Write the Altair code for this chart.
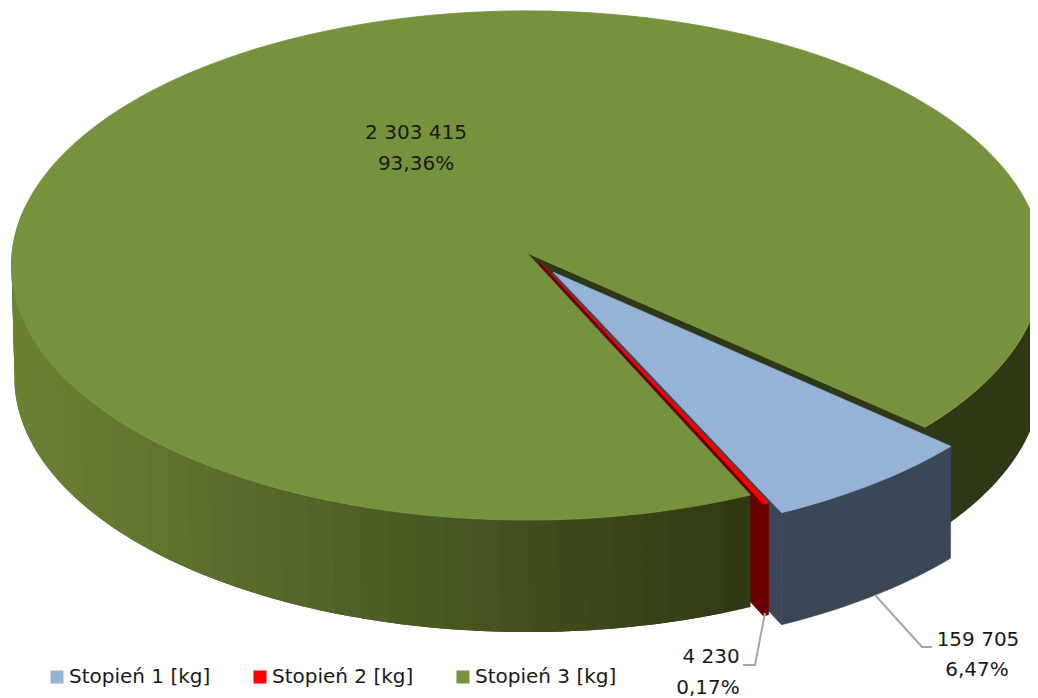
import math
import altair as alt
import pandas as pd

categories = ["Stopień 1 [kg]", "Stopień 2 [kg]", "Stopień 3 [kg]"]
values = [159705, 4230, 2303415]
value_labels = ["159 705", "4 230", "2 303 415"]
pct_labels = ["6,47%", "0,17%", "93,36%"]
top_colors = ["#95b3d7", "#ff0000", "#76923c"]
wall_colors = ["#3b4658", "#6b0000", "#2e3816"]

# drawing geometry of the tilted disc (canvas units)
CX, CY, A, B, K = 527.0, 253.0, 515.0, 254.0, 0.049
DX, DEPTH, AB = 1.0, 112.0, 513.0
START = 41.6
OFFSETS = [(26, 19), (13, 9), (0, 0)]
GRAD_L, GRAD_R = (107, 130, 52), (46, 57, 20)

total = sum(values)
spans, a0 = [], START
for v in values:
    a1 = a0 + 360.0 * v / total
    spans.append((a0, a1))
    a0 = a1


def top(t, off):
    r = math.radians(t)
    w = 1 - K * math.sin(r)
    return CX + off[0] + A * math.cos(r) / w, CY + off[1] + B * math.sin(r) / w


def bot(t, off):
    r = math.radians(t)
    w = 1 - K * math.sin(r)
    return CX + DX + off[0] + AB * math.cos(r) / w, CY + DEPTH + off[1] + B * math.sin(r) / w


def apex(off, lower=False):
    return (CX + off[0] + (DX if lower else 0), CY + off[1] + (DEPTH if lower else 0))


def steps(t0, t1, d=1.5):
    n = max(1, int(abs(t1 - t0) / d))
    return [t0 + (t1 - t0) * i / n for i in range(n + 1)]


def frame(polys):
    rows = []
    for name, color, pts in polys:
        for i, (x, y) in enumerate(pts + [pts[0]]):
            rows.append({"poly": name, "i": i, "x": x, "y": y, "color": color})
    return pd.DataFrame(rows)


def top_slice(name, color, t0, t1, off):
    return (name, color, [apex(off)] + [top(t, off) for t in steps(t0, t1)])


def radial_face(name, color, t, off):
    return (name, color, [apex(off), top(t, off), bot(t, off), apex(off, True)])


def wall(name, color, t0, t1, off):
    a = steps(t0, t1)
    return (name, color, [top(t, off) for t in a] + [bot(t, off) for t in reversed(a)])


def shade(t):
    # darkens from the left silhouette towards the cut edge of the green slice
    x0, x1 = top(180, (0, 0))[0], top(spans[2][0], (0, 0))[0]
    f = min(1, max(0, (top(t, (0, 0))[0] - x0) / (x1 - x0)))
    c = [round(GRAD_L[i] + (GRAD_R[i] - GRAD_L[i]) * f) for i in range(3)]
    return "#%02x%02x%02x" % tuple(c)


(b0, b1), (r0, r1), (g0, g1) = spans
off_b, off_r, off_g = OFFSETS

green_walls = [wall("gr", wall_colors[2], START - 50, START, off_g)]
front = steps(r1, 190, 3)
for j in range(len(front) - 1):
    mid = (front[j] + front[j + 1]) / 2
    # each band runs under its neighbour so that no seam shows between them
    green_walls.append(
        wall(f"gf{j}", shade(mid), front[j], min(front[j + 1] + 3, 190), off_g)
    )

stages = [
    (0.8, [radial_face("g_face", wall_colors[2], START, off_g)]),
    (0.8, [radial_face("b_face", wall_colors[0], b1, off_b)]),
    (0.8, [radial_face("r_face", wall_colors[1], r1, off_r)]),
    (0, green_walls),
    (0.8, [top_slice("g_top", top_colors[2], g0, g1, off_g)]),
    (0.5, [wall("r_wall", wall_colors[1], r0, r1, off_r), top_slice("r_top", top_colors[1], r0, r1, off_r)]),
    (0.5, [wall("b_wall", wall_colors[0], b0, b1, off_b), top_slice("b_top", top_colors[0], b0, b1, off_b)]),
]

xs = alt.Scale(domain=[8, 1030], range=[0, 1022], nice=False, zero=False)
ys = alt.Scale(domain=[8, 698], range=[0, 690], nice=False, zero=False)
X = lambda f="x": alt.X(f"{f}:Q", scale=xs, axis=None)
Y = lambda f="y": alt.Y(f"{f}:Q", scale=ys, axis=None)

layers = []
for sw, polys in stages:
    layers.append(
        alt.Chart(frame(polys))
        .mark_line(clip=True, strokeWidth=sw, strokeJoin="round")
        .encode(
            x=X(), y=Y(), order="i:Q", detail="poly:N",
            fill=alt.Fill("color:N", scale=None, legend=None),
            stroke=alt.Stroke("color:N", scale=None, legend=None),
        )
    )

leaders = pd.DataFrame(
    [
        {"s": "b", "i": 0, "x": 875, "y": 595},
        {"s": "b", "i": 1, "x": 922, "y": 647},
        {"s": "b", "i": 2, "x": 932, "y": 647},
        {"s": "r", "i": 0, "x": 765, "y": 613},
        {"s": "r", "i": 1, "x": 755, "y": 665},
        {"s": "r", "i": 2, "x": 743, "y": 665},
    ]
)
layers.append(
    alt.Chart(leaders)
    .mark_line(color="#a6a6a6", strokeWidth=2)
    .encode(x=X(), y=Y(), order="i:Q", detail="s:N")
)

label_x = [978, 711, 416]
label_x2 = [977, 708, 416]
label_y = [640, 657, 133]
label_y2 = [670, 688, 164]
labels = pd.DataFrame(
    {
        "x": label_x + label_x2,
        "y": label_y + label_y2,
        "t": value_labels + pct_labels,
    }
)
layers.append(
    alt.Chart(labels)
    .mark_text(font="DejaVu Sans", fontSize=20, color="#1a1a1a", align="center", baseline="middle")
    .encode(x=X(), y=Y(), text="t:N")
)

legend_sq_x = [57, 260, 463]
legend_tx_x = [69, 272, 475]
legend = pd.DataFrame(
    {"sx": legend_sq_x, "tx": legend_tx_x, "y": [677] * 3, "t": categories, "c": top_colors}
)
layers.append(
    alt.Chart(legend)
    .mark_square(size=170, opacity=1)
    .encode(x=X("sx"), y=Y(), color=alt.Color("c:N", scale=None, legend=None))
)
layers.append(
    alt.Chart(legend)
    .mark_text(font="DejaVu Sans", fontSize=20, color="#1a1a1a", align="left", baseline="middle")
    .encode(x=X("tx"), y=Y(), text="t:N")
)

chart = (
    alt.layer(*layers)
    .properties(width=1022, height=690, padding=0, background="white")
    .configure_view(stroke=None)
)
chart.save("out.html", embed_options={"renderer": "svg", "actions": False})
